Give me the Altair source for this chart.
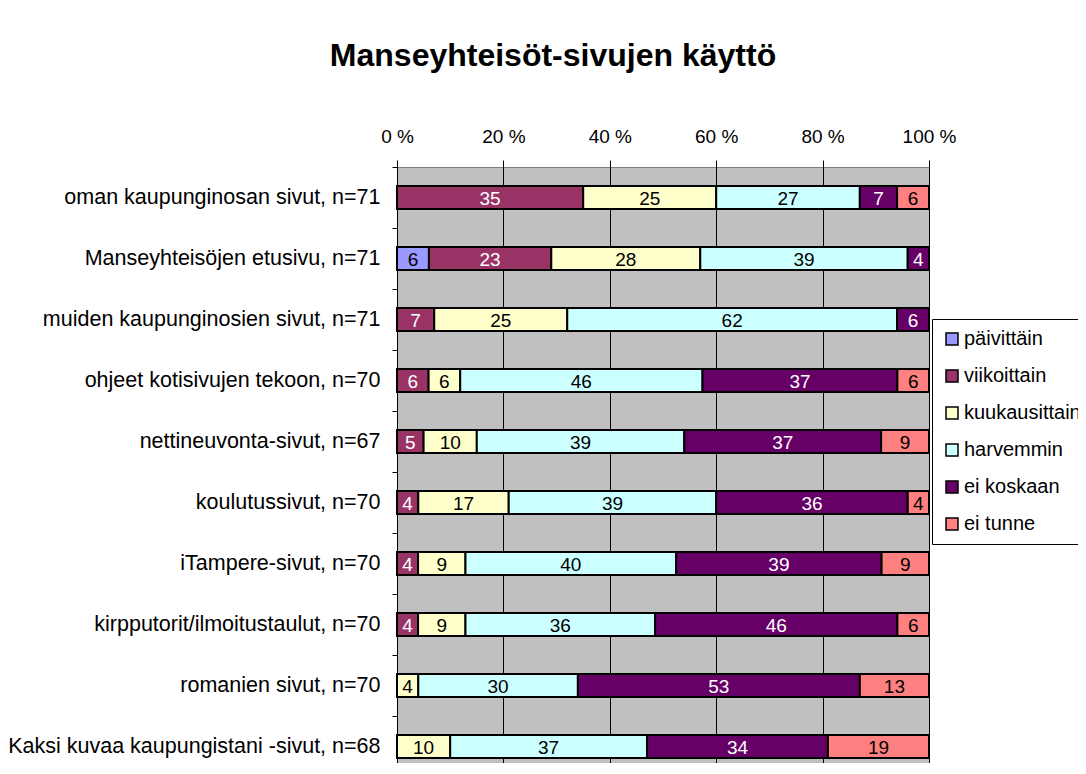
import altair as alt
import pandas as pd

categories = [
    "oman kaupunginosan sivut, n=71",
    "Manseyhteisöjen etusivu, n=71",
    "muiden kaupunginosien sivut, n=71",
    "ohjeet kotisivujen tekoon, n=70",
    "nettineuvonta-sivut, n=67",
    "koulutussivut, n=70",
    "iTampere-sivut, n=70",
    "kirpputorit/ilmoitustaulut, n=70",
    "romanien sivut, n=70",
    "Kaksi kuvaa kaupungistani -sivut, n=68",
]
series = ["päivittäin", "viikoittain", "kuukausittain", "harvemmin", "ei koskaan", "ei tunne"]
colors = ["#9999FF", "#993366", "#FFFFCC", "#CCFFFF", "#660066", "#FF8080"]

paivittain = [0, 6, 0, 0, 0, 0, 0, 0, 0, 0]
viikoittain = [35, 23, 7, 6, 5, 4, 4, 4, 0, 0]
kuukausittain = [25, 28, 25, 6, 10, 17, 9, 9, 4, 10]
harvemmin = [27, 39, 62, 46, 39, 39, 40, 36, 30, 37]
ei_koskaan = [7, 4, 6, 37, 37, 36, 39, 46, 53, 34]
ei_tunne = [6, 0, 0, 6, 9, 4, 9, 6, 13, 19]

values = [paivittain, viikoittain, kuukausittain, harvemmin, ei_koskaan, ei_tunne]

rows = []
for si, (s, vals) in enumerate(zip(series, values)):
    for c, v in zip(categories, vals):
        rows.append({"cat": c, "series": s, "order": si, "value": v})
df = pd.DataFrame(rows)

FONT = "Liberation Sans"

base = alt.Chart(df).transform_filter("datum.value > 0")

y_enc = alt.Y(
    "cat:N",
    sort=categories,
    title=None,
    scale=alt.Scale(type="band", paddingInner=0, paddingOuter=0),
    axis=alt.Axis(
        domain=True, domainColor="black", domainWidth=1,
        ticks=True, tickBand="extent", tickSize=5, tickColor="black",
        labelFontSize=21.5, labelFont=FONT, labelColor="black",
        labelPadding=12, labelLimit=500, grid=False,
    ),
)

x_axis = alt.Axis(
    orient="top",
    values=[0, 0.2, 0.4, 0.6, 0.8, 1.0],
    labelExpr="format(datum.value*100, 'd') + ' %'",
    labelFontSize=19, labelFont=FONT, labelColor="black",
    labelFlush=False, labelOverlap=False, labelPadding=14,
    tickSize=7, tickColor="black",
    grid=True, gridColor="black", gridWidth=1,
    domain=False,
)

bars = base.mark_bar(size=23, stroke="black", strokeWidth=2).encode(
    y=y_enc,
    x=alt.X("value:Q", stack="normalize", title=None,
            scale=alt.Scale(domain=[0, 1]), axis=x_axis),
    color=alt.Color(
        "series:N",
        scale=alt.Scale(domain=series, range=colors),
        legend=alt.Legend(
            title=None, orient="none", legendX=535, legendY=152,
            symbolType="square", symbolSize=144,
            symbolStrokeColor="black", symbolStrokeWidth=1.5,
            labelFontSize=20, labelFont=FONT, labelColor="black",
            rowPadding=17, padding=10, labelOffset=2, labelLimit=400,
            strokeColor="black", fillColor="white", cornerRadius=0,
        ),
    ),
    order=alt.Order("order:Q"),
)

labels = (
    base.transform_joinaggregate(total="sum(value)", groupby=["cat"])
    .transform_window(
        cum="sum(value)",
        sort=[alt.SortField("order", order="ascending")],
        groupby=["cat"],
        frame=[None, 0],
    )
    .transform_calculate(mid="(datum.cum - datum.value / 2) / datum.total")
    .mark_text(fontSize=19, font=FONT, baseline="middle", align="center", dy=1)
    .encode(
        y=alt.Y("cat:N", sort=categories, title=None),
        x=alt.X("mid:Q", title=None),
        text=alt.Text("value:Q"),
        color=alt.condition(
            "datum.series == 'viikoittain' || datum.series == 'ei koskaan'",
            alt.value("white"),
            alt.value("black"),
        ),
    )
)

chart = (
    alt.layer(bars, labels)
    .properties(
        width=532,
        height=610,
        title=alt.Title(
            "Manseyhteisöt-sivujen käyttö",
            fontSize=32, font=FONT, fontWeight="bold", color="black",
            anchor="middle", dx=-110, offset=54,
        ),
        autosize=alt.AutoSizeParams(type="none"),
        padding={"left": 389, "top": 159, "right": 149, "bottom": -14},
    )
    .configure(background="white")
    .configure_view(fill="#C0C0C0", stroke="#808080", strokeWidth=1)
)

chart.save("out.html", embed_options={"renderer": "svg", "actions": False})
